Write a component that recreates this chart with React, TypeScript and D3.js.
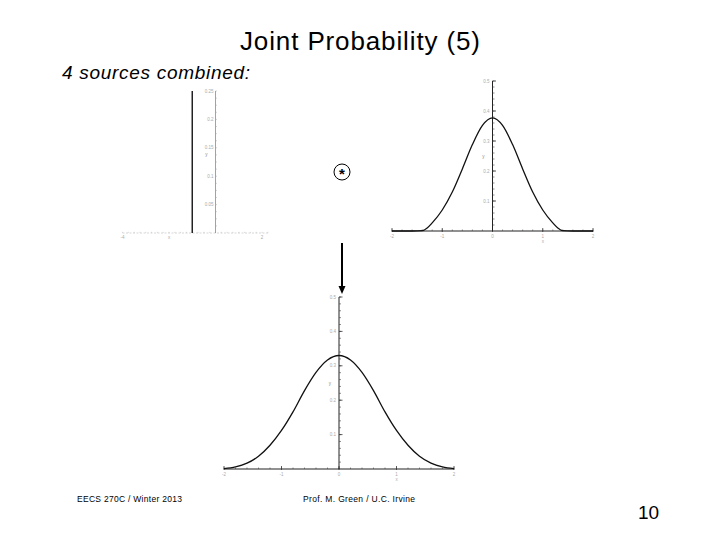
import React from "react";
import * as d3 from "d3";

// ---- data ----
const spikeX = [-1];
const spikeHeight = [0.25];

const rightCurveX = [-2, -1.6, -1.4, -1.3, -1.2, -1.0, -0.8, -0.6, -0.4, -0.2, 0, 0.2, 0.4, 0.6, 0.8, 1.0, 1.2, 1.3, 1.4, 1.6, 2];
const rightCurveY = [0, 0, 0.001, 0.01, 0.027, 0.07, 0.13, 0.207, 0.288, 0.352, 0.377, 0.352, 0.288, 0.207, 0.13, 0.07, 0.027, 0.01, 0.001, 0, 0];

const bottomCurveX = [-2, -1.8, -1.6, -1.4, -1.2, -1.0, -0.8, -0.6, -0.4, -0.2, 0, 0.2, 0.4, 0.6, 0.8, 1.0, 1.2, 1.4, 1.6, 1.8, 2];
const bottomCurveY = [0.001, 0.006, 0.017, 0.037, 0.069, 0.112, 0.166, 0.228, 0.281, 0.317, 0.33, 0.317, 0.281, 0.228, 0.166, 0.112, 0.069, 0.037, 0.017, 0.006, 0.001];

const curveXTicks = [-2, -1, 0, 1, 2];
const curveXTickLabels = ["-2", "-1", "0", "1", "2"];
const curveYTicks = [0.1, 0.2, 0.3, 0.4, 0.5];
const curveYTickLabels = ["0.1", "0.2", "0.3", "0.4", "0.5"];

const spikeYTicks = [0.05, 0.1, 0.15, 0.2, 0.25];
const spikeYTickLabels = ["0.05", "0.1", "0.15", "0.2", "0.25"];
const spikeXTicks = [-4, -2, 2];
const spikeXTickLabels = ["-4", "x", "2"];

const FONT = "'Liberation Sans', Arial, sans-serif";

type CurvePlotProps = {
  xs: number[];
  ys: number[];
  x0: number;
  x1: number;
  yTop: number;
  yBottom: number;
};

function CurvePlot({ xs, ys, x0, x1, yTop, yBottom }: CurvePlotProps) {
  const x = d3.scaleLinear().domain([-2, 2]).range([x0, x1]);
  const y = d3.scaleLinear().domain([0, 0.5]).range([yBottom, yTop]);
  const pts: [number, number][] = xs.map((v, i) => [v, ys[i]]);
  const line = d3
    .line<[number, number]>()
    .x((d) => x(d[0]))
    .y((d) => y(d[1]))
    .curve(d3.curveMonotoneX);
  const minorY = d3.range(0.02, 0.5001, 0.02);
  const minorX = d3.range(-2, 2.0001, 0.2);
  const ax = x(0);
  return (
    <g>
      {/* x axis */}
      <line x1={x0} x2={x1} y1={y(0)} y2={y(0)} stroke="#222" strokeWidth={1} />
      {minorX.map((t, i) => (
        <line key={"mx" + i} x1={x(t)} x2={x(t)} y1={y(0)} y2={y(0) - 1.5} stroke="#444" strokeWidth={0.6} />
      ))}
      {curveXTicks.map((t, i) => (
        <g key={"xt" + i}>
          <line x1={x(t)} x2={x(t)} y1={y(0) + 1} y2={y(0) - 3} stroke="#333" strokeWidth={0.8} />
          <text x={x(t)} y={y(0) + 7} fontSize={4.5} fill="#aaa" textAnchor="middle" fontFamily={FONT}>
            {curveXTickLabels[i]}
          </text>
        </g>
      ))}
      <text x={x(1)} y={y(0) + 12} fontSize={4.5} fill="#aaa" textAnchor="middle" fontFamily={FONT}>x</text>
      {/* y axis */}
      <line x1={ax} x2={ax} y1={y(0)} y2={y(0.5)} stroke="#222" strokeWidth={1} />
      {minorY.map((t, i) => (
        <line key={"my" + i} x1={ax} x2={ax + 2} y1={y(t)} y2={y(t)} stroke="#444" strokeWidth={0.6} />
      ))}
      {curveYTicks.map((t, i) => (
        <g key={"yt" + i}>
          <line x1={ax} x2={ax + 3.5} y1={y(t)} y2={y(t)} stroke="#333" strokeWidth={0.8} />
          <text x={ax - 3} y={y(t) + 1.5} fontSize={4.5} fill="#aaa" textAnchor="end" fontFamily={FONT}>
            {curveYTickLabels[i]}
          </text>
        </g>
      ))}
      <text x={ax - 8} y={y(0.25) + 1.5} fontSize={4.5} fill="#888" textAnchor="end" fontFamily={FONT}>y</text>
      {/* curve */}
      <path d={line(pts) || ""} fill="none" stroke="#111" strokeWidth={1.3} />
    </g>
  );
}

function SpikePlot() {
  const x = d3.scaleLinear().domain([-4, 2.3]).range([122.5, 269]);
  const y = d3.scaleLinear().domain([0, 0.25]).range([233, 91]);
  const ax = x(0);
  const minorY = d3.range(0.0125, 0.2501, 0.0125);
  const minorX = d3.range(-4, 2.3, 0.25);
  return (
    <g>
      <line x1={x(-4)} x2={x(2.3)} y1={y(0)} y2={y(0)} stroke="#ccc" strokeWidth={0.8} strokeDasharray="2,1.5" />
      {minorX.map((t, i) => (
        <line key={"sx" + i} x1={x(t)} x2={x(t)} y1={y(0)} y2={y(0) - 1.2} stroke="#bbb" strokeWidth={0.5} />
      ))}
      {spikeXTicks.map((t, i) => (
        <text key={"sxl" + i} x={x(t)} y={y(0) + 6} fontSize={4.5} fill="#aaa" textAnchor="middle" fontFamily={FONT}>
          {spikeXTickLabels[i]}
        </text>
      ))}
      <line x1={ax} x2={ax} y1={y(0)} y2={y(0.25)} stroke="#888" strokeWidth={0.8} />
      {minorY.map((t, i) => (
        <line key={"sy" + i} x1={ax} x2={ax + 1.5} y1={y(t)} y2={y(t)} stroke="#aaa" strokeWidth={0.5} />
      ))}
      {spikeYTicks.map((t, i) => (
        <text key={"syl" + i} x={ax - 2} y={y(t) + 1.5} fontSize={4.5} fill="#aaa" textAnchor="end" fontFamily={FONT}>
          {spikeYTickLabels[i]}
        </text>
      ))}
      <text x={ax - 8} y={y(0.135)} fontSize={4.5} fill="#888" textAnchor="end" fontFamily={FONT}>y</text>
      {spikeX.map((s, i) => (
        <line key={"sp" + i} x1={x(s)} x2={x(s)} y1={y(0)} y2={y(spikeHeight[i])} stroke="#222" strokeWidth={1.5} />
      ))}
    </g>
  );
}

export default function App() {
  return (
    <svg
      width={720}
      height={540}
      viewBox="0 0 720 540"
      style={{ position: "absolute", left: 0, top: 0, background: "#fff" }}
    >
      <rect x={0} y={0} width={720} height={540} fill="#fff" />
      <text x={240} y={50} fontSize={26} fontFamily={FONT} fill="#000" textLength={240} lengthAdjust="spacing">
        Joint Probability (5)
      </text>
      <text x={62} y={79} fontSize={19} fontStyle="italic" fontFamily={FONT} fill="#000" textLength={188} lengthAdjust="spacing">
        4 sources combined:
      </text>

      <SpikePlot />
      <CurvePlot xs={rightCurveX} ys={rightCurveY} x0={392} x1={593} yTop={81} yBottom={231} />
      <CurvePlot xs={bottomCurveX} ys={bottomCurveY} x0={224} x1={454} yTop={297} yBottom={469} />

      {/* convolution symbol */}
      <circle cx={342} cy={172} r={8} fill="none" stroke="#000" strokeWidth={1} />
      <text x={342} y={179} fontSize={15} fontWeight="bold" fontFamily={FONT} textAnchor="middle" fill="#000">*</text>

      {/* arrow */}
      <line x1={342} y1={243} x2={342} y2={287} stroke="#000" strokeWidth={2} />
      <path d="M338.5,286 L345.5,286 L342,294 Z" fill="#000" />

      <text x={77} y={502} fontSize={8.5} fontFamily={FONT} fill="#000" textLength={105} lengthAdjust="spacing">EECS 270C / Winter 2013</text>
      <text x={303} y={502} fontSize={8.5} fontFamily={FONT} fill="#000" textLength={112} lengthAdjust="spacing">Prof. M. Green / U.C. Irvine</text>
      <text x={638} y={519} fontSize={19} fontFamily={FONT} fill="#000">10</text>
    </svg>
  );
}
